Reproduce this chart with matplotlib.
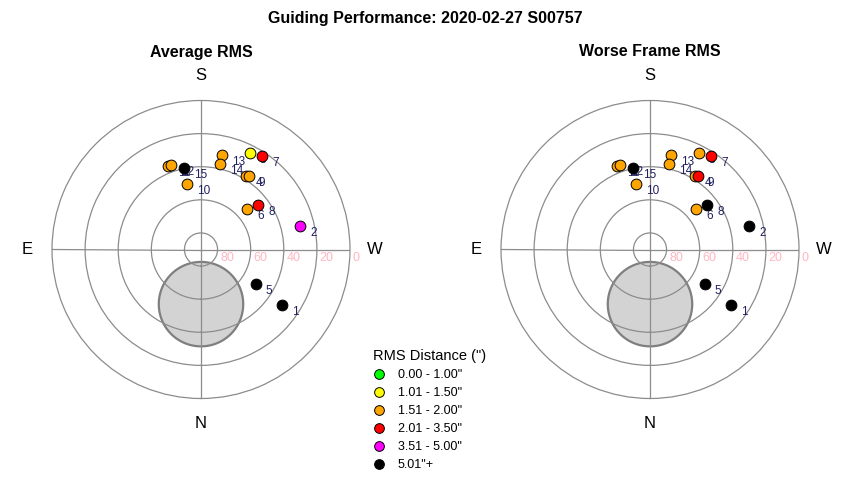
import numpy as np
import matplotlib
matplotlib.use('Agg')
import matplotlib.pyplot as plt
from matplotlib.lines import Line2D

plt.rcParams['font.family'] = ['Liberation Sans', 'DejaVu Sans']

# pointing number, altitude (deg) and azimuth (deg, N=0, E=90)
point_ids = list(range(1, 16))
altitude = [30.5, 28.3, 24.8, 37.9, 50.8, 52.8, 22.3, 46.2, 37.0, 49.7, 35.8, 35.9, 31.5, 37.3, 39.6]
azimuth = [304.3, 256.5, 207.0, 211.5, 302.1, 228.8, 213.2, 232.2, 213.1, 168.1, 158.6, 160.2, 192.7, 192.6, 168.5]

# rms class of each pointing (index into bin_labels)
avg_bin = [5, 4, 1, 2, 5, 2, 3, 3, 2, 2, 2, 2, 2, 2, 5]
worst_bin = [5, 5, 2, 2, 5, 2, 3, 5, 3, 2, 2, 2, 2, 2, 5]

bin_labels = ['0.00 - 1.00"', '1.01 - 1.50"', '1.51 - 2.00"', '2.01 - 3.50"', '3.51 - 5.00"', '5.01"+']
bin_colors = ['#00ff00', '#ffff00', '#ffa500', '#ff0000', '#ff00ff', '#000000']

ring_alt = [80, 60, 40, 20, 0]

# moon / exclusion zone
moon_alt = 57
moon_az = 0
moon_radius = 25.5

grey = '#8c8c8c'


def draw_sky(ax, bins, title, cx):
    ax.set_theta_zero_location('S')
    ax.set_theta_direction(-1)
    ax.set_ylim(0, 90)
    ax.set_yticks([90 - a for a in ring_alt[:-1]])
    ax.set_yticklabels([])
    ax.set_xticks(np.radians([0, 90, 180, 270]))
    ax.set_xticklabels([])
    ax.tick_params(length=0)
    ax.grid(True, color=grey, lw=0.9)
    ax.spines['polar'].set_color(grey)
    ax.spines['polar'].set_linewidth(0.9)

    # exclusion disk
    r0 = 90 - moon_alt
    th0 = np.radians(moon_az)
    t = np.linspace(0, 2 * np.pi, 240)
    px = r0 * np.sin(th0) + moon_radius * np.cos(t)
    py = r0 * np.cos(th0) + moon_radius * np.sin(t)
    ax.fill(np.arctan2(px, py), np.hypot(px, py), facecolor='#d3d3d3',
            edgecolor='#7f7f7f', lw=1.6, zorder=1)

    # ring labels
    for a in ring_alt:
        ax.annotate(str(a), (np.radians(270), 90 - a), xytext=(2, -2),
                    textcoords='offset points', ha='left', va='top',
                    fontsize=9, color='#ffb6c1', annotation_clip=False)

    # compass
    for lab, az in [('S', 180), ('N', 0), ('E', 90), ('W', 270)]:
        ax.text(np.radians(az), 105, lab, ha='center', va='center',
                fontsize=12, clip_on=False)

    for i, pid in enumerate(point_ids):
        th = np.radians(azimuth[i])
        r = 90 - altitude[i]
        ax.scatter([th], [r], s=60, c=bin_colors[bins[i]], edgecolors='black',
                   linewidths=0.7, zorder=5)
        ax.annotate(str(pid), (th, r), xytext=(7.2, -5), textcoords='offset points',
                    ha='left', va='center', fontsize=8.5, color='#202060', zorder=5)

    fig.text(cx, 1 - 52 / 480, title, ha='center', va='center',
             fontsize=11.5, fontweight='bold')


fig = plt.figure(figsize=(8.5, 4.8), dpi=100)
w = 298 / 850
h = 298 / 480
bottom = (480 - 249.5 - 149) / 480
ax1 = fig.add_axes([(201 - 149) / 850, bottom, w, h], projection='polar')
ax2 = fig.add_axes([(650 - 149) / 850, bottom, w, h], projection='polar')

draw_sky(ax1, avg_bin, 'Average RMS', 201 / 850)
draw_sky(ax2, worst_bin, 'Worse Frame RMS', 650 / 850)

fig.text(0.5, 1 - 18 / 480, 'Guiding Performance: 2020-02-27 S00757', ha='center',
         va='center', fontsize=11.5, fontweight='bold')

handles = [Line2D([], [], ls='none', marker='o', markersize=7, markerfacecolor=c,
                  markeredgecolor='black', markeredgewidth=0.7) for c in bin_colors]
fig.legend(handles, bin_labels, loc='upper left', bbox_to_anchor=(373 / 850, 1 - 349 / 480),
           frameon=False, title='RMS Distance (")', title_fontsize=10.5, fontsize=9,
           handlelength=1.0, handletextpad=1.0, labelspacing=0.48, borderpad=0,
           borderaxespad=0, alignment='left')

fig.savefig('out.png', dpi=100)
